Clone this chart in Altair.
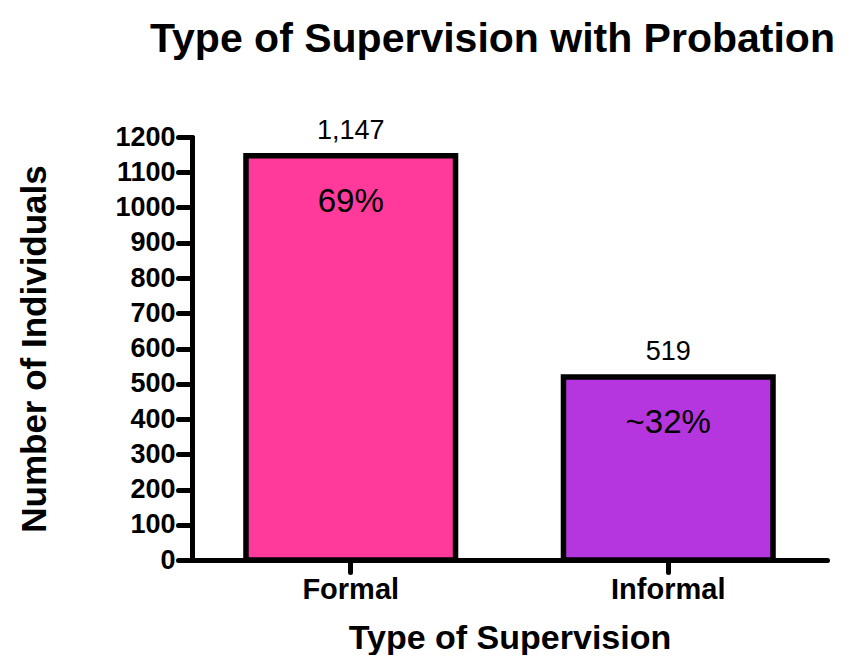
import altair as alt
import pandas as pd

categories = ["Formal", "Informal"]
counts = [1147, 519]
count_labels = ["1,147", "519"]
pct_labels = ["69%", "~32%"]
y_ticks = list(range(0, 1201, 100))
bar_colors = ["#FF3A9A", "#B536DE"]

df = pd.DataFrame({
    "type": categories,
    "count": counts,
    "count_label": count_labels,
    "pct_label": pct_labels,
})

FONT = "Liberation Sans"

x = alt.X(
    "type:N",
    sort=categories,
    scale=alt.Scale(paddingInner=0.34, paddingOuter=0.17),
    axis=alt.Axis(
        title="Type of Supervision",
        labelAngle=0,
        labelFont=FONT, labelFontSize=29, labelFontWeight="bold", labelColor="black",
        labelPadding=3,
        tickSize=12, tickWidth=5, tickColor="black", tickCap="round",
        domainWidth=5, domainColor="black", domainCap="round",
        titleFont=FONT, titleFontSize=34, titleFontWeight="bold", titleColor="black",
        titleBaseline="alphabetic", titleY=88,
        grid=False,
    ),
)
y = alt.Y(
    "count:Q",
    scale=alt.Scale(domain=[0, 1200], nice=False),
    axis=alt.Axis(
        title="Number of Individuals",
        values=y_ticks,
        format="d",
        labelOverlap=False, labelFlush=False,
        labelFont=FONT, labelFontSize=27, labelFontWeight="bold", labelColor="black",
        labelPadding=3,
        tickSize=14, tickWidth=5, tickColor="black", tickCap="round",
        domainWidth=5, domainColor="black", domainCap="round",
        titleFont=FONT, titleFontSize=35, titleFontWeight="bold", titleColor="black",
        titleBaseline="alphabetic", titleX=-147,
        grid=False,
    ),
)

base = alt.Chart(df).encode(x=x, y=y)

bars = base.mark_bar(stroke="black", strokeWidth=5.5, strokeJoin="miter").encode(
    color=alt.Color("type:N", scale=alt.Scale(domain=categories, range=bar_colors), legend=None)
)
vals = base.mark_text(dy=-17, baseline="alphabetic", font=FONT, fontSize=27, color="black").encode(
    text="count_label:N"
)
pcts = base.mark_text(dy=56, baseline="alphabetic", font=FONT, fontSize=33, color="black").encode(
    text="pct_label:N"
)

chart = alt.layer(bars, vals, pcts).properties(
    width=635,
    height=423,
    title=alt.TitleParams(
        "Type of Supervision with Probation",
        font=FONT, fontSize=41, fontWeight="bold", color="black",
        anchor="middle", dx=-17, dy=-52,
    ),
    autosize=alt.AutoSizeParams(type="none"),
    padding={"left": 184, "top": 129, "right": 15, "bottom": 95},
).configure_view(stroke=None)

chart.save("out.html", embed_options={"renderer": "svg", "actions": False})
